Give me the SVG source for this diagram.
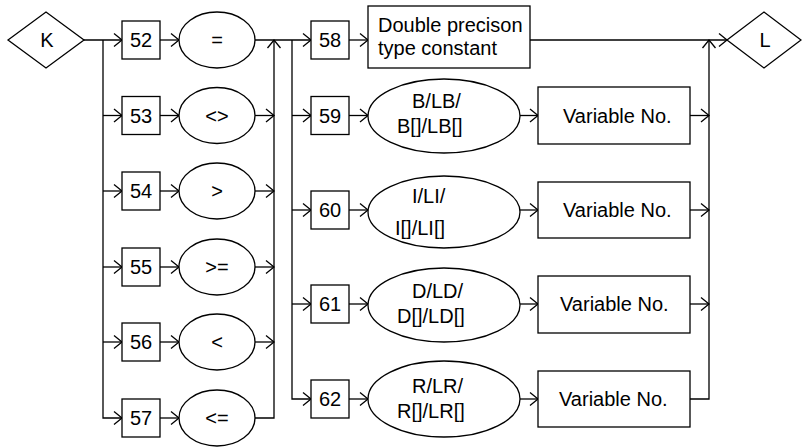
<svg xmlns="http://www.w3.org/2000/svg" width="802" height="448" viewBox="0 0 802 448">
<style>
.s{fill:#fff;stroke:#000;stroke-width:1.3}
.l{fill:none;stroke:#000;stroke-width:1.3}
text{font-family:"Liberation Sans",Arial,sans-serif;font-size:20px;fill:#000}
.c{text-anchor:middle}
</style>
<defs>
<marker id="a" markerUnits="userSpaceOnUse" markerWidth="12" markerHeight="16" viewBox="-10 -8 12 16" refX="0" refY="0" orient="auto">
<path d="M-8,-6.5 L0,0 L-8,6.5" fill="none" stroke="#000" stroke-width="1.3"/>
</marker>
</defs>
<g id="connectors" class="l">
<!-- left fan-out -->
<path d="M84,40 H122" marker-end="url(#a)"/>
<path d="M103,40 V418 H122" marker-end="url(#a)"/>
<path d="M103,115.5 H122" marker-end="url(#a)"/>
<path d="M103,191 H122" marker-end="url(#a)"/>
<path d="M103,267 H122" marker-end="url(#a)"/>
<path d="M103,342 H122" marker-end="url(#a)"/>
<!-- box to ellipse -->
<path d="M160,40 H179" marker-end="url(#a)"/>
<path d="M160,115.5 H179" marker-end="url(#a)"/>
<path d="M160,191 H179" marker-end="url(#a)"/>
<path d="M160,267 H179" marker-end="url(#a)"/>
<path d="M160,342 H179" marker-end="url(#a)"/>
<path d="M160,418 H179" marker-end="url(#a)"/>
<!-- merge -->
<path d="M255,115.5 H274" marker-end="url(#a)"/>
<path d="M255,191 H274" marker-end="url(#a)"/>
<path d="M255,267 H274" marker-end="url(#a)"/>
<path d="M255,342 H274" marker-end="url(#a)"/>
<path d="M255,418 H274 V40" marker-end="url(#a)"/>
<path d="M255,40 H311" marker-end="url(#a)"/>
<!-- right fan-out -->
<path d="M292,40 V399 H311" marker-end="url(#a)"/>
<path d="M292,115.5 H311" marker-end="url(#a)"/>
<path d="M292,210 H311" marker-end="url(#a)"/>
<path d="M292,304 H311" marker-end="url(#a)"/>
<path d="M349,40 H368" marker-end="url(#a)"/>
<path d="M349,115.5 H368" marker-end="url(#a)"/>
<path d="M349,210 H368" marker-end="url(#a)"/>
<path d="M349,304 H368" marker-end="url(#a)"/>
<path d="M349,399 H368" marker-end="url(#a)"/>
<path d="M520,115.5 H538" marker-end="url(#a)"/>
<path d="M520,210 H538" marker-end="url(#a)"/>
<path d="M520,304 H538" marker-end="url(#a)"/>
<path d="M520,399 H538" marker-end="url(#a)"/>
<!-- final merge -->
<path d="M690,115.5 H709" marker-end="url(#a)"/>
<path d="M690,210 H709" marker-end="url(#a)"/>
<path d="M690,304 H709" marker-end="url(#a)"/>
<path d="M690,399 H709 V40" marker-end="url(#a)"/>
<path d="M530,40 H727" marker-end="url(#a)"/>
</g>
<g id="K"><polygon class="s" points="8,40 46,12 84,40 46,68"/><text class="c" x="47" y="47">K</text></g>
<g id="L"><polygon class="s" points="727,40 764,12 801,40 764,68"/><text class="c" x="765" y="47">L</text></g>
<g id="n52"><rect class="s" x="122" y="21" width="38" height="38"/><text class="c" x="141" y="47">52</text></g>
<g id="n53"><rect class="s" x="122" y="96.5" width="38" height="38"/><text class="c" x="141" y="122.5">53</text></g>
<g id="n54"><rect class="s" x="122" y="172" width="38" height="38"/><text class="c" x="141" y="198">54</text></g>
<g id="n55"><rect class="s" x="122" y="248" width="38" height="38"/><text class="c" x="141" y="274">55</text></g>
<g id="n56"><rect class="s" x="122" y="323" width="38" height="38"/><text class="c" x="141" y="349">56</text></g>
<g id="n57"><rect class="s" x="122" y="399" width="38" height="38"/><text class="c" x="141" y="425">57</text></g>
<g id="eq"><ellipse class="s" cx="217" cy="40" rx="38" ry="28"/><text class="c" x="217" y="47">=</text></g>
<g id="ne"><ellipse class="s" cx="217" cy="115.5" rx="38" ry="28"/><text class="c" x="217" y="122.5">&lt;&gt;</text></g>
<g id="gt"><ellipse class="s" cx="217" cy="191" rx="38" ry="28"/><text class="c" x="217" y="198">&gt;</text></g>
<g id="ge"><ellipse class="s" cx="217" cy="267" rx="38" ry="28"/><text class="c" x="217" y="274">&gt;=</text></g>
<g id="lt"><ellipse class="s" cx="217" cy="342" rx="38" ry="28"/><text class="c" x="217" y="349">&lt;</text></g>
<g id="le"><ellipse class="s" cx="217" cy="418" rx="38" ry="28"/><text class="c" x="217" y="425">&lt;=</text></g>
<g id="n58"><rect class="s" x="311" y="21" width="38" height="38"/><text class="c" x="330" y="47">58</text></g>
<g id="n59"><rect class="s" x="311" y="96.5" width="38" height="38"/><text class="c" x="330" y="122.5">59</text></g>
<g id="n60"><rect class="s" x="311" y="191" width="38" height="38"/><text class="c" x="330" y="217">60</text></g>
<g id="n61"><rect class="s" x="311" y="285" width="38" height="38"/><text class="c" x="330" y="311">61</text></g>
<g id="n62"><rect class="s" x="311" y="380" width="38" height="38"/><text class="c" x="330" y="406">62</text></g>
<g id="dbl"><rect class="s" x="368" y="6" width="162" height="62"/><text x="378" y="32">Double precison</text><text x="378" y="55">type constant</text></g>
<g id="B"><ellipse class="s" cx="444" cy="116" rx="76" ry="37"/><text x="412" y="108">B/LB/</text><text x="397" y="133">B[]/LB[]</text></g>
<g id="I"><ellipse class="s" cx="444" cy="212" rx="76" ry="36"/><text x="412" y="203">I/LI/</text><text x="395" y="235">I[]/LI[]</text></g>
<g id="D"><ellipse class="s" cx="444" cy="305" rx="76" ry="37"/><text x="412" y="298">D/LD/</text><text x="397" y="323">D[]/LD[]</text></g>
<g id="R"><ellipse class="s" cx="444" cy="399" rx="76" ry="38"/><text x="412" y="393">R/LR/</text><text x="397" y="418">R[]/LR[]</text></g>
<g id="v59"><rect class="s" x="538" y="87" width="152" height="57"/><text x="563" y="123">Variable No.</text></g>
<g id="v60"><rect class="s" x="538" y="182" width="152" height="56"/><text x="563" y="217">Variable No.</text></g>
<g id="v61"><rect class="s" x="538" y="276" width="152" height="57"/><text x="560" y="311">Variable No.</text></g>
<g id="v62"><rect class="s" x="538" y="371" width="152" height="56"/><text x="559" y="406">Variable No.</text></g>
</svg>
